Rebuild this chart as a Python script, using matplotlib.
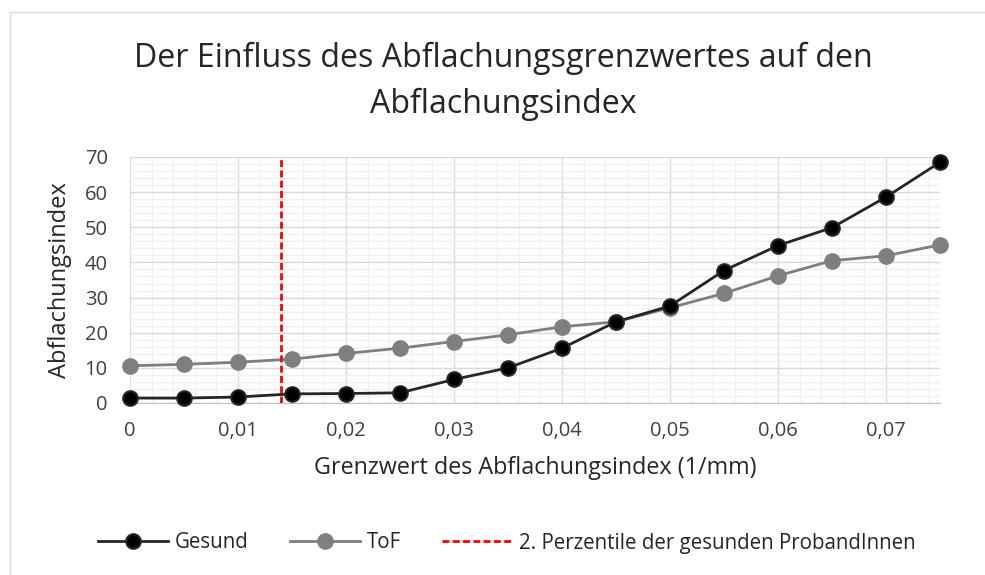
import matplotlib
matplotlib.use("Agg")
import matplotlib.pyplot as plt
from matplotlib.patches import Rectangle
from matplotlib.ticker import MultipleLocator, FuncFormatter

plt.rcParams['font.family'] = ['Open Sans', 'DejaVu Sans']

# Grenzwert (1/mm)
grenzwert = [0.0, 0.005, 0.01, 0.015, 0.02, 0.025, 0.03, 0.035,
             0.04, 0.045, 0.05, 0.055, 0.06, 0.065, 0.07, 0.075]
# Abflachungsindex je Gruppe
gesund = [1.4, 1.4, 1.7, 2.6, 2.7, 2.9, 6.7, 10.0,
          15.6, 23.1, 27.6, 37.7, 44.8, 49.9, 58.6, 68.5]
tof = [10.6, 11.0, 11.6, 12.5, 14.1, 15.6, 17.5, 19.4,
       21.7, 23.1, 27.1, 31.2, 36.2, 40.5, 41.9, 45.0]
perzentile_2 = 0.014

W, H = 985, 575
fig = plt.figure(figsize=(W / 100, H / 100), dpi=100)
fig.patches.append(Rectangle((10 / W, -0.01), 1.0, 1.0 - 12 / H + 0.01,
                             transform=fig.transFigure, fill=False,
                             edgecolor='#d9d9d9', linewidth=1.0))

ax = fig.add_axes([130 / W, 1 - 403 / H, 810 / W, 246 / H])

ax.set_xlim(0, 0.075)
ax.set_ylim(0, 70)
ax.xaxis.set_major_locator(MultipleLocator(0.01))
ax.xaxis.set_minor_locator(MultipleLocator(0.002))
ax.yaxis.set_major_locator(MultipleLocator(10))
ax.yaxis.set_minor_locator(MultipleLocator(2))
ax.grid(which='major', color='#d9d9d9', linewidth=1.0)
ax.grid(which='minor', color='#f0f0f0', linewidth=1.0)
ax.set_axisbelow(True)

for s in ['top', 'right', 'left']:
    ax.spines[s].set_visible(False)
ax.spines['bottom'].set_color('#bfbfbf')

ax.tick_params(which='both', length=0, labelsize=14.5, colors='#404040')
ax.tick_params(axis='x', pad=13)
ax.tick_params(axis='y', pad=16)
ax.xaxis.set_major_formatter(FuncFormatter(
    lambda v, p: ('%g' % round(v, 3)).replace('.', ',')))

ax.plot(grenzwert, gesund, color='#262626', linewidth=2, marker='o',
        markersize=10.5, markerfacecolor='black', markeredgecolor='#262626',
        markeredgewidth=1.5, label='Gesund', zorder=4, clip_on=False)
ax.plot(grenzwert, tof, color='#7f7f7f', linewidth=2, marker='o',
        markersize=11, markerfacecolor='#7f7f7f', markeredgecolor='#7f7f7f',
        label='ToF', zorder=3, clip_on=False)
ax.plot([perzentile_2, perzentile_2], [0, 70], color='#ff0000', linewidth=2,
        linestyle=(0, (2.5, 1.2)), label='2. Perzentile der gesunden ProbandInnen',
        zorder=5)

ax.set_xlabel('Grenzwert des Abflachungsindex (1/mm)', fontsize=16.8,
              color='#262626', labelpad=11)
ax.set_ylabel('Abflachungsindex', fontsize=17, color='#262626', labelpad=9)

title_lines = ['Der Einfluss des Abflachungsgrenzwertes auf den', 'Abflachungsindex']
for line, base in zip(title_lines, [67, 113]):
    fig.text(503 / W, 1 - base / H, line, ha='center', va='baseline',
             fontsize=23.1, color='#262626')

fig.legend(loc='center', bbox_to_anchor=(507 / W, 1 - 543 / H), ncol=3,
           frameon=False, fontsize=14.8, handlelength=3.4, columnspacing=2.0,
           handletextpad=0.34, labelcolor='#262626')

fig.savefig('out.png', dpi=100, facecolor='white')
